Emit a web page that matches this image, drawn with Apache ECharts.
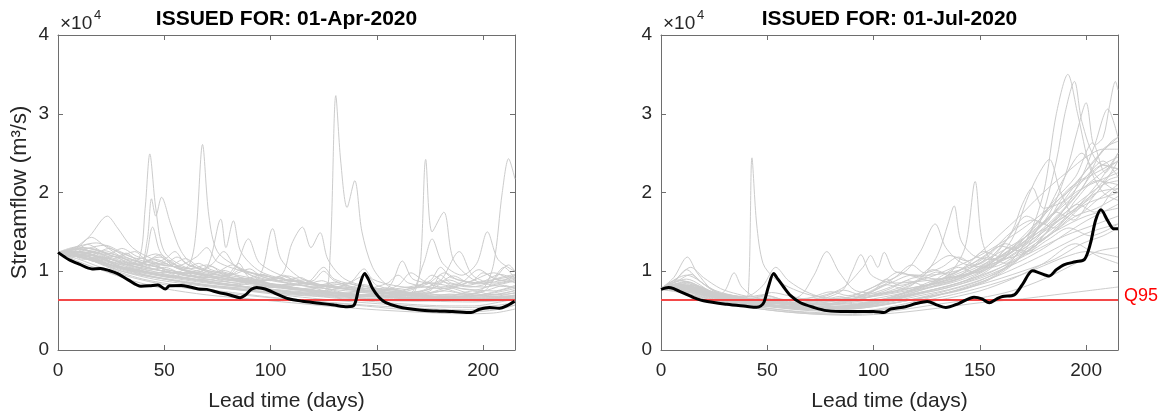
<!DOCTYPE html>
<html>
<head>
<meta charset="utf-8">
<script src="https://cdn.jsdelivr.net/npm/echarts/dist/echarts.min.js"></script>
<style>html,body{margin:0;padding:0;background:#fff;}#chart{width:1170px;height:417px;}</style>
</head>
<body>
<div id="chart"></div>
<script>
// ---------- DATA ----------
const panelTitles = ['ISSUED FOR: 01-Apr-2020', 'ISSUED FOR: 01-Jul-2020'];
const xAxisName = 'Lead time (days)';
const yAxisName = 'Streamflow (m\u00b3/s)';
const xMax = 215;
const xStep = 50;
const yMax = 40000;
const yStep = 10000;
const yScale = 10000;
const q95Label = 'Q95';
const q95Apr = 6350;
const q95Jul = 6350;

// Observed / reference (black) lines: [lead day, streamflow]
const aprObserved = [[0,12400],[5,11500],[10,10900],[16,10300],[20,10350],[24,10100],[28,9700],[33,8900],[39,8100],[43,8150],[47,8250],[50.5,7750],[52.5,8150],[58,8200],[62,8000],[66,7750],[70,7700],[75.5,7300],[80,7050],[85.7,6650],[88,6950],[91,7700],[93.5,7950],[97.5,7750],[103,7100],[108.5,6500],[115,6200],[122.8,5950],[130,5700],[136,5500],[139.3,5700],[141.5,7800],[144.3,9700],[146,9000],[148,7800],[151,6700],[154,6050],[160,5500],[170,5080],[178,4950],[185.7,4880],[194.3,4750],[198.3,5170],[203,5400],[207.7,5300],[211,5600],[214.8,6200]];

const julObserved = [[0,7700],[3.5,7950],[6,7800],[9,7400],[15,6700],[20,6250],[31,5800],[40,5550],[45,5420],[47,5600],[48.5,6100],[50.5,8000],[53,9700],[55,9000],[57.7,8000],[61,6900],[65.6,6000],[72,5400],[78,5000],[87.6,4880],[100,4880],[104.9,4750],[108,5200],[115,5500],[120,5900],[125.3,6150],[130,5700],[134,5400],[140,5900],[147.3,6700],[151,6500],[154.4,6000],[158,6500],[160.7,6800],[166.2,7000],[170,8300],[174.8,10050],[178,9800],[182.7,9400],[186,10200],[189.8,10850],[195,11200],[199.2,11500],[202,13500],[204.5,16500],[207,17800],[210,16500],[213,15400],[215,15400]];

// Ensemble members (grey), 01-Apr-2020
const aprMembers = [
 [[0,12400],[10,11800],[20,11000],[35,9800],[50,9000],[70,8200],[90,7600],[110,7200],[125,7400],[128,12000],[130.7,32300],[133,24000],[136,18100],[139.6,21500],[143,15000],[148,10500],[155,8200],[165,7200],[180,6600],[200,6200],[215,6300]],
 [[0,12300],[10,12500],[20,11800],[30,10800],[38,11500],[41,18000],[43.2,24900],[46,18000],[50,12500],[60,10500],[75,9500],[90,8800],[110,8000],[130,7300],[150,6800],[170,6500],[190,6300],[215,6600]],
 [[0,12400],[12,12000],[25,10800],[40,10000],[55,9800],[62,11000],[65,15200],[68,26100],[71,17000],[75,12500],[85,10500],[100,9000],[120,8000],[140,7400],[160,7000],[180,6800],[200,6900],[215,7200]],
 [[0,12300],[15,11500],[30,10000],[50,9000],[70,8200],[90,7800],[110,7200],[130,6800],[150,6500],[165,6600],[170,9500],[173,24200],[176,15000],[181.5,17500],[186,11500],[195,9000],[205,8200],[215,8000]],
 [[0,12400],[15,12200],[30,10500],[50,9500],[70,8800],[90,8000],[110,7500],[130,7100],[150,6800],[170,6600],[190,6800],[200,7800],[205,11000],[209,20000],[212,24300],[215,21700]],
 [[0,12400],[10,11900],[20,11200],[30,10500],[38,10200],[42,14000],[44,19200],[46,17000],[48.7,19400],[53,16000],[58,12500],[65,10500],[80,9200],[100,8300],[120,7600],[140,7100],[160,6700],[180,6500],[200,6400],[215,6900]],
 [[0,12400],[8,12800],[15,14500],[23.2,17000],[28,15500],[35,13000],[45,11500],[60,10200],[75,9300],[90,8500],[110,7800],[130,7200],[150,6800],[170,6500],[190,6300],[215,6400]],
 [[0,12300],[15,11800],[30,10500],[40,11000],[44.5,15600],[48,12500],[55,10500],[70,9500],[90,8800],[105,9500],[110,13500],[115,15600],[119,13000],[123.3,14900],[127,11500],[135,9000],[150,7800],[170,7000],[190,6600],[215,6700]],
 [[0,12400],[15,12600],[30,11000],[45,10200],[60,9700],[70,10500],[76.6,16600],[79,13000],[82.5,16400],[86,12500],[95,10000],[110,8800],[130,7900],[150,7300],[170,6900],[190,6700],[215,6900]],
 [[0,12400],[15,11600],[30,10400],[50,9400],[70,8700],[85,8300],[95,9500],[101,15400],[105,11500],[115,9000],[130,8000],[150,7300],[170,6800],[190,6500],[215,6600]],
 [[0,12300],[15,12000],[30,11200],[50,10000],[70,9200],[82,9800],[89.6,14100],[95,11000],[110,9000],[130,8000],[150,7400],[170,7000],[190,6700],[215,6800]],
 [[0,12400],[8,13000],[15.7,14300],[22,13200],[32,11500],[45,10300],[60,9500],[80,8600],[100,8000],[120,7400],[140,7000],[160,6700],[180,6500],[200,6500],[215,7000]],
 [[0,12400],[15,11800],[30,10600],[50,9500],[70,8600],[90,8000],[110,7400],[130,7000],[150,6700],[165,7000],[172,11000],[176,14100],[181,11000],[190,9500],[197,11000],[202,15000],[207,11500],[215,10000]],
 [[0,12300],[15,11500],[30,10300],[50,9300],[70,8500],[90,7900],[110,7300],[130,6900],[150,6800],[157,8500],[162,11300],[167,9000],[178,8500],[188.8,12500],[195,9500],[205,8500],[215,9000]],
 [[0,12300],[10,11500],[20,10500],[35,9200],[50,8300],[70,7500],[90,6900],[110,6400],[130,6000],[150,5600],[170,5300],[190,5100],[205,5200],[215,5700]],
 [[0,12400],[10,11200],[20,10200],[35,8800],[50,7800],[70,7000],[90,6500],[110,6000],[130,5500],[150,5100],[170,4800],[190,4600],[205,4700],[215,5200]],
 [[0,12300],[12,11800],[25,10800],[40,9600],[55,8800],[75,8000],[95,7300],[115,6700],[135,6200],[155,5800],[175,5500],[195,5400],[215,6000]],
 [[0,12400],[12,12300],[25,11500],[40,10300],[55,9400],[75,8500],[95,7800],[115,7200],[135,6800],[155,6400],[175,6200],[195,6100],[215,6500]],
 [[0,12400],[10,12800],[20,12200],[30,11300],[40,10800],[50,11500],[55,12500],[60,11000],[75,9800],[90,9000],[105,8300],[120,8800],[125,10000],[130,8800],[145,7600],[160,7100],[175,7500],[180,9500],[185,8500],[200,8000],[215,8800]],
 [[0,12300],[10,13200],[18,13600],[28,12500],[40,11300],[55,10600],[65,11800],[70,13000],[75,11200],[90,9800],[110,8800],[130,8100],[145,7800],[155,8500],[160,9500],[165,8500],[180,7800],[195,8800],[200,9800],[208,8800],[215,9500]],
 [[0,12400],[15,12900],[25,12000],[35,11000],[50,10000],[65,9400],[80,8900],[95,8600],[105,8200],[118,8700],[125,10500],[130,9000],[145,8000],[160,7600],[175,8800],[180,10500],[185,9200],[200,8500],[215,9200]],
 [[0,12400],[10,12100],[25,11200],[40,10000],[55,9400],[70,8900],[80,9600],[85,11000],[90,9200],[105,8200],[120,7600],[135,7200],[150,7500],[165,8000],[175,8500],[190,7800],[205,7500],[215,8200]],
 [[0,12300],[10,12500],[20,11600],[35,10800],[48,11800],[55,10500],[70,9300],[90,8500],[110,7900],[125,7500],[135,8200],[145,9500],[150,8200],[165,7300],[185,7000],[200,7400],[210,10500],[215,9000]],
 [[0,12400],[12,13000],[22,12400],[35,11500],[48,10400],[60,9800],[72,10800],[78,12500],[84,10500],[100,9300],[115,8500],[130,7900],[150,7400],[170,7200],[182,7600],[195,8800],[205,9800],[215,8500]],
 [[0,12300],[10,11800],[20,11000],[30,10000],[45,9000],[60,8400],[75,7900],[95,7400],[115,7000],[135,6600],[150,6300],[170,6200],[185,6800],[195,7500],[205,7000],[215,7600]],
 [[0,12400],[15,12400],[28,11800],[40,11000],[55,10000],[68,9500],[80,9000],[95,8400],[108,7900],[120,7500],[140,7000],[158,6900],[170,7300],[178,8000],[190,7200],[205,6800],[215,7300]],
 [[0,12400],[6,12000],[12,12800],[18,12200],[26,11500],[32,12300],[38,11200],[46,10600],[52,11400],[58,10300],[66,9800],[72,10600],[78,9500],[88,9000],[96,9600],[104,8700],[115,8200],[124,8800],[132,7900],[145,7500],[155,7900],[163,7300],[172,7600],[180,8800],[186,8000],[196,7600],[205,8300],[215,8800]],
 [[0,12300],[8,12600],[14,13400],[20,12600],[28,11800],[36,12500],[42,11300],[50,10900],[56,11800],[62,10700],[70,10000],[80,9400],[86,10200],[92,9300],[100,8800],[108,9400],[116,8600],[126,8100],[136,8500],[146,7700],[158,7300],[166,7800],[174,8400],[182,9800],[188,8900],[198,8400],[208,9200],[215,9600]],
 [[0,12400],[7,11800],[14,12200],[22,11400],[30,10500],[38,10000],[45,10800],[52,9800],[60,9200],[68,9700],[76,8900],[85,8500],[94,8900],[102,8100],[112,7700],[122,8000],[132,7300],[142,7000],[152,7300],[162,6900],[172,7000],[182,7500],[192,7100],[202,7600],[210,8200],[215,7800]],
 [[0,12300],[10,12900],[17,12300],[24,12900],[32,11800],[40,11100],[48,12100],[54,11000],[62,10300],[70,10800],[78,9900],[88,9300],[98,8800],[106,9500],[112,8700],[122,8200],[130,8600],[140,7800],[150,7500],[160,8200],[166,9800],[172,8800],[180,8000],[190,8600],[198,10200],[205,9100],[215,8600]],
 [[0,12400],[6,12200],[12,11500],[20,11800],[28,10700],[36,10200],[44,10900],[52,10000],[60,9400],[68,9200],[76,9900],[84,8800],[94,8300],[104,7900],[114,8300],[124,7600],[134,7200],[144,7500],[154,7000],[164,6800],[174,7200],[184,7900],[192,7300],[202,7000],[215,7500]],
 [[0,12400],[9,13100],[16,12800],[24,12200],[30,12900],[37,11900],[45,11200],[52,10700],[60,11600],[66,10600],[74,9900],[82,10800],[88,9800],[96,9100],[106,8600],[116,8900],[124,8200],[134,7800],[144,8300],[152,7600],[162,7400],[170,8100],[176,9500],[182,8600],[194,8000],[204,8700],[212,10800],[215,10000]],
 [[0,12300],[8,11900],[16,12500],[24,11600],[34,10600],[44,9700],[54,9200],[60,9800],[66,9100],[76,8400],[86,8100],[96,7800],[106,8200],[116,7500],[126,7100],[136,6900],[146,7100],[158,6700],[170,6600],[182,6900],[194,6800],[204,7300],[215,8000]],
 [[0,12400],[8,12500],[15,12000],[22,12600],[30,11700],[38,10900],[46,11500],[54,10600],[62,10000],[70,9500],[78,10100],[86,9200],[96,8700],[104,9300],[110,8500],[120,8000],[130,8400],[140,7700],[150,7400],[158,7700],[166,7300],[176,7800],[184,8900],[192,8200],[200,8700],[208,9600],[215,9000]],
 [[0,12300],[10,12200],[20,11300],[30,10300],[40,9600],[50,9100],[60,8700],[70,8300],[80,8000],[90,7600],[100,7300],[110,7000],[122,6800],[134,6500],[146,6200],[160,5900],[172,5700],[184,5600],[196,5600],[206,6000],[215,6500]],
 [[0,12400],[10,12000],[20,10900],[30,9800],[40,9000],[52,8400],[64,7900],[76,7500],[88,7100],[100,6700],[112,6400],[124,6100],[136,5800],[148,5500],[160,5200],[172,5000],[186,4900],[198,4900],[208,5200],[215,5700]],
 [[0,12400],[8,12200],[14,12900],[22,13300],[30,12400],[38,11600],[46,12200],[52,11200],[60,10400],[66,11000],[72,10200],[82,9600],[90,10300],[96,9300],[106,8800],[114,9200],[120,8400],[130,8000],[138,8700],[144,10300],[148,9000],[158,8200],[168,7900],[178,8300],[186,9400],[194,8500],[204,8900],[215,9400]],
 [[0,12300],[10,11900],[18,11200],[26,11900],[34,10800],[42,10100],[50,10500],[58,9700],[68,9100],[78,8700],[86,9100],[94,8400],[104,8000],[114,7600],[124,7900],[134,7300],[144,7000],[154,7200],[164,6900],[174,6700],[184,7100],[194,6900],[204,7200],[215,7800]]
];

// Ensemble members (grey), 01-Jul-2020
const julMembers = [
 [[0,7800],[10,8500],[20,7200],[35,6200],[50,5700],[70,5300],[90,5400],[110,6000],[130,7000],[145,8000],[160,10000],[172,14000],[180,20000],[186,30000],[191.4,35000],[196,30000],[202,23000],[208,20000],[215,19000]],
 [[0,7800],[12,8200],[25,6800],[40,6000],[60,5500],[80,5100],[100,5500],[120,6500],[140,7500],[155,9000],[168,11500],[178,16000],[186,24000],[190,30000],[194.5,34100],[198,29000],[205,24000],[215,23000]],
 [[0,7900],[12,9000],[25,7200],[40,6400],[60,5800],[80,5500],[100,5900],[120,7200],[140,8500],[155,10500],[170,13500],[182,17000],[190,22000],[196,28000],[200,31400],[204,26000],[208,27000],[211,31000],[213.8,34100],[215,33000]],
 [[0,7800],[15,7600],[30,6300],[50,5600],[70,5100],[90,5200],[110,6000],[130,7200],[150,8800],[165,11000],[178,14000],[190,18000],[198,22000],[204,26000],[210.2,30600],[215,27000]],
 [[0,7700],[15,8000],[30,6600],[50,5800],[70,5300],[90,5600],[110,6500],[130,7800],[150,9500],[165,12500],[175,15500],[185,19000],[195,22000],[203,26300],[209,22500],[215,25000]],
 [[0,7800],[12,9500],[25,7600],[40,6600],[60,6000],[80,6200],[100,7000],[120,8000],[140,9000],[155,11000],[165,14000],[172,19000],[177,22000],[182.7,24200],[188,20000],[195,17000],[205,19000],[215,21000]],
 [[0,7800],[10,8800],[22,7500],[40,6500],[60,6000],[80,5800],[100,6500],[120,7600],[140,9000],[155,11500],[165,15000],[170,18500],[174.8,20600],[180,18000],[190,19000],[200,22000],[208,24000],[215,22000]],
 [[0,7800],[15,7800],[30,6500],[50,6000],[70,5800],[90,6300],[110,7500],[122,9000],[130,12000],[135,16000],[137.9,18300],[141,14000],[147,12000],[155,11500],[165,12500],[180,15000],[195,18000],[205,20000],[215,20500]],
 [[0,7700],[15,7400],[30,6200],[50,5600],[70,5200],[90,5600],[110,6800],[125,8500],[135,9500],[143,13000],[147.8,21400],[151,14000],[156,11500],[168,12000],[180,14000],[195,17000],[205,18000],[215,19500]],
 [[0,7800],[12,8700],[25,7000],[45,6200],[65,5800],[85,6400],[100,8000],[115,10000],[122,12500],[129,16000],[134,13000],[142,11000],[155,10500],[170,12500],[185,15000],[200,17000],[215,18000]],
 [[0,7800],[10,8000],[20,7000],[30,6500],[38,6300],[41,7000],[42.8,24400],[45,16000],[48,11000],[53,9200],[60,8000],[70,7000],[85,6500],[100,6800],[120,7800],[140,9500],[160,12000],[175,14500],[190,17000],[205,20000],[215,24000]],
 [[0,7800],[6,9200],[12.4,11800],[17,9800],[25,7500],[40,6400],[60,5700],[80,5300],[100,5700],[120,6800],[140,8000],[160,10000],[175,13000],[190,16500],[205,21000],[215,25000]],
 [[0,7700],[12,8000],[25,6800],[30,7500],[34.4,9800],[38,8000],[45,6600],[60,5800],[80,5400],[100,5800],[120,7000],[140,8300],[160,10500],[180,14000],[195,17500],[210,22000],[215,23000]],
 [[0,7800],[15,7600],[30,6600],[50,6000],[65,6800],[72,9500],[78,12500],[84,9800],[92,7500],[105,7200],[120,8000],[140,9200],[160,11500],[180,15500],[195,19500],[205,23000],[215,24500]],
 [[0,7800],[15,8200],[30,6800],[50,6300],[70,6300],[85,7500],[90,10000],[94,12100],[99,9500],[110,8500],[130,9000],[150,10000],[165,12500],[180,16000],[195,20000],[215,22500]],
 [[0,7800],[15,8000],[30,6800],[50,6400],[70,6600],[85,7800],[95,10500],[98.6,12000],[102,10500],[105,12400],[110,10000],[125,9500],[145,10500],[160,12500],[175,15000],[190,18500],[205,22000],[215,24000]],
 [[0,7800],[12,8400],[25,7300],[40,6800],[48,8200],[54,10500],[60,8800],[70,7200],[85,6200],[100,6300],[120,7200],[140,8500],[160,10500],[175,12500],[190,14500],[205,16000],[215,17000]],
 [[0,7700],[15,7200],[30,6000],[50,5300],[70,4700],[90,4500],[110,5000],[130,5800],[150,6600],[165,7500],[180,9000],[195,11000],[205,12500],[215,13000]],
 [[0,7700],[15,7000],[30,5900],[50,5100],[70,4600],[90,4400],[110,4700],[130,5300],[150,6000],[170,6500],[185,7000],[200,7500],[215,8000]],
 [[0,7800],[15,7300],[30,6100],[50,5500],[70,5000],[90,4900],[110,5400],[130,6300],[150,7500],[165,9000],[180,11000],[195,13500],[205,12000],[215,11000]],
 [[0,7800],[12,8600],[25,7300],[40,6500],[60,6000],[80,5800],[100,6200],[115,7200],[130,8500],[145,9800],[160,12000],[172,14500],[185,17500],[195,21000],[205,24500],[215,27000]],
 [[0,7800],[15,7900],[30,6700],[45,6000],[60,5600],[80,5500],[100,6100],[115,7300],[128,8500],[140,10000],[155,12500],[165,15000],[175,16500],[185,15500],[195,19000],[205,21500],[215,21000]],
 [[0,7800],[15,7700],[30,6400],[50,5700],[70,5400],[90,5700],[110,6600],[125,7800],[140,8800],[155,10500],[170,13000],[185,16500],[198,20500],[208,25500],[215,26500]],
 [[0,7800],[10,8300],[25,7000],[45,6200],[65,5700],[85,5700],[105,6500],[120,7800],[135,9200],[150,11000],[162,13500],[172,12500],[182,14000],[192,15500],[202,14500],[215,16000]],
 [[0,7800],[15,7500],[30,6300],[50,5600],[70,5200],[90,5300],[110,6000],[130,7000],[150,8300],[170,10000],[185,11500],[198,13500],[208,14500],[215,15500]],
 [[0,7800],[12,8100],[28,6900],[45,6300],[62,6000],[80,6500],[95,7000],[108,8500],[118,9500],[130,9000],[145,9800],[158,11500],[170,14000],[180,17000],[190,22000],[198,25000],[205,22000],[215,20000]],
 [[0,7800],[6,8600],[12,10200],[18,8800],[26,7300],[34,6800],[42,6500],[50,6900],[58,6300],[66,6000],[74,6500],[82,6100],[90,6500],[98,7400],[106,8300],[114,7800],[122,8900],[130,9900],[138,9200],[146,10500],[154,11800],[162,11000],[170,13000],[178,15500],[186,17500],[194,16500],[202,19000],[210,21500],[215,22000]],
 [[0,7800],[8,8800],[14,9600],[20,8400],[28,7200],[36,6700],[44,6300],[52,6600],[60,6100],[68,5800],[76,6200],[84,6800],[92,6300],[100,7000],[108,7800],[116,8800],[124,8200],[132,9400],[140,10500],[148,9800],[156,11200],[164,13000],[172,12200],[180,14500],[188,16800],[196,18500],[204,17500],[212,20000],[215,20500]],
 [[0,7700],[10,7900],[18,7100],[26,6600],[34,6200],[42,5900],[50,5600],[58,5400],[66,5200],[74,5100],[82,5200],[90,5300],[98,5700],[106,6300],[114,7000],[122,7600],[130,8300],[138,8900],[146,9700],[154,10800],[162,11500],[170,12800],[178,14200],[186,15800],[194,17500],[202,18800],[210,19500],[215,20000]],
 [[0,7800],[10,8300],[18,7400],[26,6900],[34,6400],[44,6100],[52,5900],[60,6400],[68,6000],[76,5700],[84,5900],[92,6600],[100,7500],[106,9000],[112,8200],[120,8800],[128,10200],[136,9600],[144,10800],[152,12500],[160,11800],[168,13800],[176,16000],[184,18200],[192,20500],[200,22000],[208,23500],[215,23000]],
 [[0,7800],[8,8100],[16,7500],[24,6900],[32,6400],[40,6100],[48,5800],[56,5600],[64,5500],[72,5500],[80,5700],[88,6100],[96,6600],[104,7200],[112,7900],[120,8700],[128,9400],[136,10300],[144,11200],[152,12300],[160,13600],[168,15000],[176,16600],[184,18400],[192,20200],[200,21800],[208,23000],[215,24000]],
 [[0,7700],[10,7600],[20,6700],[30,6100],[40,5700],[50,5300],[60,5000],[70,4800],[80,4700],[90,4800],[100,5100],[110,5600],[120,6200],[130,6900],[140,7700],[150,8600],[160,9600],[170,10800],[180,12100],[190,13500],[200,14800],[208,15500],[215,16000]],
 [[0,7800],[7,9000],[14,10500],[20,9200],[28,7800],[36,7100],[44,6700],[52,7300],[60,6900],[70,6400],[78,6900],[86,7600],[94,7000],[102,7800],[110,9200],[118,10800],[124,9800],[132,10500],[140,11800],[148,10800],[156,12000],[164,14500],[172,17000],[180,16000],[188,19000],[196,21500],[204,24000],[212,26500],[215,27000]],
 [[0,7800],[10,8200],[20,7300],[30,6600],[40,6200],[50,5800],[60,5500],[70,5300],[80,5300],[90,5500],[100,5900],[110,6400],[120,7100],[130,7600],[140,8300],[150,9100],[160,10200],[170,11400],[180,12900],[190,14700],[200,16400],[210,17800],[215,18500]],
 [[0,7800],[8,8400],[16,7800],[24,7100],[32,6700],[40,6300],[48,6600],[56,6200],[64,5900],[72,6200],[80,5900],[88,6300],[96,6900],[104,7600],[112,8400],[120,9200],[128,8700],[136,9600],[144,10600],[152,11800],[160,13200],[168,12600],[176,14000],[184,16200],[192,17800],[200,19500],[208,21000],[215,21500]],
 [[0,7700],[10,7400],[20,6500],[30,5900],[40,5500],[50,5100],[60,4800],[70,4600],[80,4500],[90,4600],[100,4900],[110,5400],[120,6000],[130,6600],[140,7200],[150,7900],[160,8700],[170,9600],[180,10700],[190,11800],[200,12500],[208,12200],[215,11800]],
 [[0,7800],[8,8900],[16,8100],[24,7400],[32,7000],[40,6700],[48,7000],[56,6500],[64,6200],[72,6800],[80,7400],[88,6900],[96,7500],[104,8600],[112,9900],[120,9300],[128,10800],[136,12000],[144,11300],[152,12800],[160,14800],[168,16800],[176,19000],[184,21000],[192,22800],[200,24500],[208,25500],[215,25500]]
];

// ---------- CHART ----------
const FONT = 'Liberation Sans, Arial, Helvetica, sans-serif';
const AXIS_COLOR = '#6e6e6e';
const TEXT_COLOR = '#262626';
const GREY = '#cccccc';
const RED = '#f34848';

const grids = [
  {left: 58, top: 35, width: 457, height: 317},
  {left: 661, top: 35, width: 457, height: 317}
];

function xAx(gi, pos, showLabel) {
  return {
    type: 'value', gridIndex: gi, position: pos, min: 0, max: xMax, interval: xStep,
    axisLine: {show: true, onZero: false, lineStyle: {color: AXIS_COLOR, width: 1}},
    axisTick: {show: true, inside: true, length: 5, lineStyle: {color: AXIS_COLOR}},
    axisLabel: {show: showLabel, showMaxLabel: false, margin: 11, color: TEXT_COLOR, fontSize: 19, fontFamily: FONT},
    splitLine: {show: false},
    name: showLabel ? xAxisName : '', nameLocation: 'middle', nameGap: 41,
    nameTextStyle: {color: TEXT_COLOR, fontSize: 21, fontFamily: FONT}
  };
}
function yAx(gi, pos, showLabel, withName) {
  return {
    type: 'value', gridIndex: gi, position: pos, min: 0, max: yMax, interval: yStep,
    axisLine: {show: true, onZero: false, lineStyle: {color: AXIS_COLOR, width: 1}},
    axisTick: {show: true, inside: true, length: 5, lineStyle: {color: AXIS_COLOR}},
    axisLabel: {show: showLabel, margin: 9, color: TEXT_COLOR, fontSize: 19, fontFamily: FONT,
      formatter: v => String(v / yScale)},
    splitLine: {show: false},
    name: withName ? yAxisName : '', nameLocation: 'middle', nameGap: 27, nameRotate: 90,
    nameTextStyle: {color: TEXT_COLOR, fontSize: 22, fontFamily: FONT}
  };
}

const series = [];
function addPanel(members, observed, q95, axisIdx) {
  members.forEach(m => series.push({
    type: 'line', xAxisIndex: axisIdx, yAxisIndex: axisIdx, data: m,
    smooth: 0.3, showSymbol: false, silent: true, z: 1,
    lineStyle: {color: GREY, width: 1}
  }));
  series.push({
    type: 'line', xAxisIndex: axisIdx, yAxisIndex: axisIdx, data: [[0, q95], [xMax, q95]],
    showSymbol: false, silent: true, z: 2, lineStyle: {color: RED, width: 2}
  });
  series.push({
    type: 'line', xAxisIndex: axisIdx, yAxisIndex: axisIdx, data: observed,
    smooth: 0.3, showSymbol: false, silent: true, z: 3,
    lineStyle: {color: '#000000', width: 3}
  });
}
addPanel(aprMembers, aprObserved, q95Apr, 0);
addPanel(julMembers, julObserved, q95Jul, 2);

const graphic = [];
grids.forEach((g, i) => {
  graphic.push({type: 'text', x: g.left + g.width / 2, y: 19,
    style: {text: panelTitles[i], fontFamily: FONT, fontSize: 21, fontWeight: 'bold', fill: '#000', align: 'center', verticalAlign: 'middle'}});
  graphic.push({type: 'text', x: g.left + 2, y: 24,
    style: {text: '\u00d710', fontFamily: FONT, fontSize: 19, fill: TEXT_COLOR, align: 'left', verticalAlign: 'middle'}});
  graphic.push({type: 'text', x: g.left + 36, y: 15,
    style: {text: '4', fontFamily: FONT, fontSize: 13, fill: TEXT_COLOR, align: 'left', verticalAlign: 'middle'}});
});
graphic.push({type: 'text', x: 1124, y: 296,
  style: {text: q95Label, fontFamily: FONT, fontSize: 18, fill: '#ff0000', align: 'left', verticalAlign: 'middle'}});

const chart = echarts.init(document.getElementById('chart'), null, {renderer: 'canvas'});
chart.setOption({
  animation: false,
  backgroundColor: '#ffffff',
  grid: grids,
  xAxis: [xAx(0, 'bottom', true), xAx(0, 'top', false), xAx(1, 'bottom', true), xAx(1, 'top', false)],
  yAxis: [yAx(0, 'left', true, true), yAx(0, 'right', false, false), yAx(1, 'left', true, false), yAx(1, 'right', false, false)],
  series: series,
  graphic: graphic
});
</script>
</body>
</html>
